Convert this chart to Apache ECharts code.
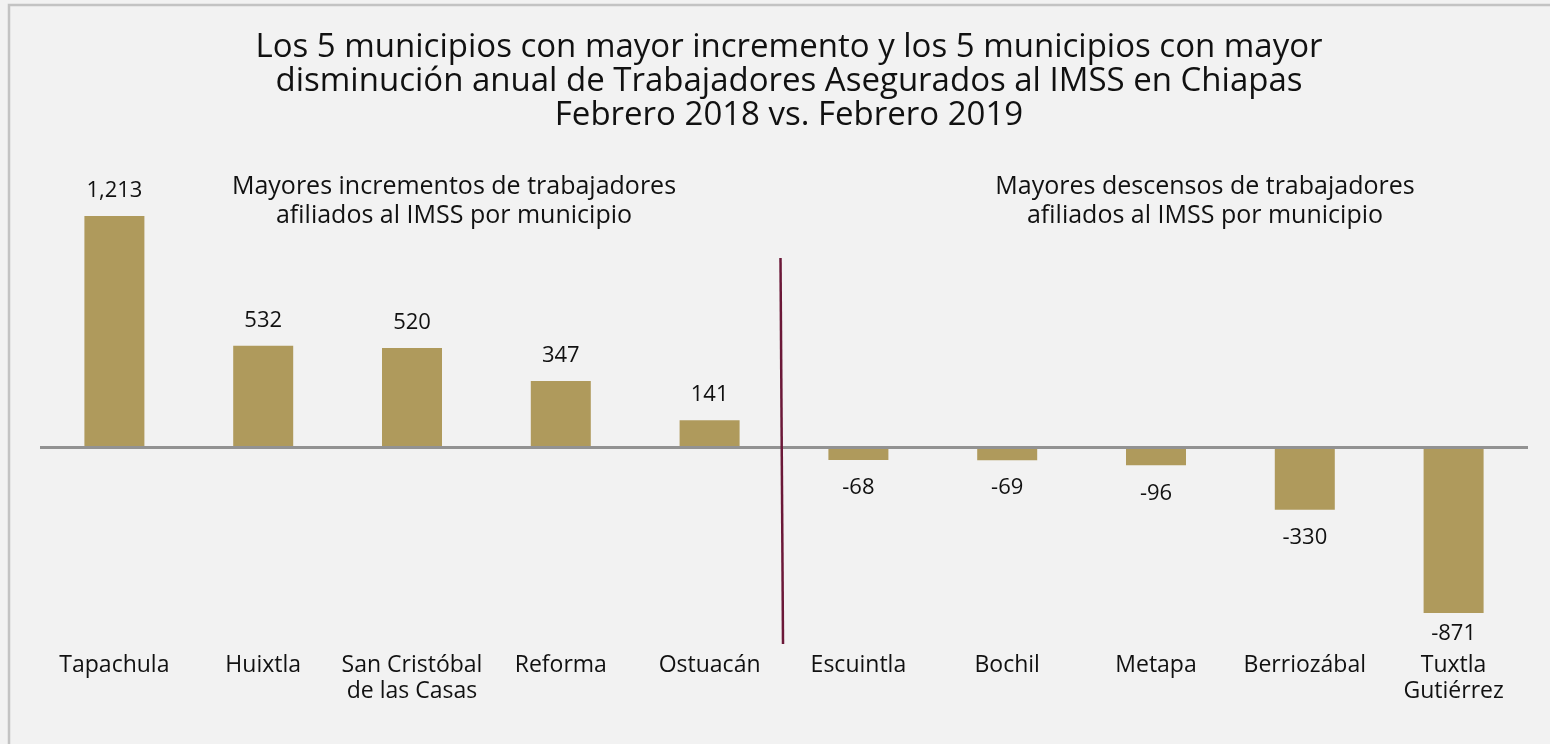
<!DOCTYPE html>
<html>
<head>
<meta charset="utf-8">
<script src="https://cdn.jsdelivr.net/npm/echarts@6/dist/echarts.min.js"></script>
<style>
html,body{margin:0;padding:0;background:#f2f2f2;}
#chart{width:1550px;height:744px;}
</style>
</head>
<body>
<div id="chart"></div>
<script>
const categories = ['Tapachula','Huixtla','San Cristóbal\nde las Casas','Reforma','Ostuacán','Escuintla','Bochil','Metapa','Berriozábal','Tuxtla\nGutiérrez'];
const values = [1213, 532, 520, 347, 141, -68, -69, -96, -330, -871];
const titleLines = ['Los 5 municipios con mayor incremento y los 5 municipios con mayor','disminución anual de Trabajadores Asegurados al IMSS en Chiapas','Febrero 2018 vs. Febrero 2019'];
const leftNote = ['Mayores incrementos de trabajadores','afiliados al IMSS por municipio'];
const rightNote = ['Mayores descensos de trabajadores','afiliados al IMSS por municipio'];

const FONT = 'Open Sans';
const chart = echarts.init(document.getElementById('chart'));
const option = {
  backgroundColor: '#f2f2f2',
  textStyle: {fontFamily: FONT},
  title: [
    {text: titleLines.join('\n'), left: 784, top: 26, textAlign: 'center',
     textStyle: {fontFamily: FONT, fontSize: 33, fontWeight: 'normal', color: '#111', lineHeight: 34}},
    {text: leftNote.join('\n'), left: 449, top: 167, textAlign: 'center',
     textStyle: {fontFamily: FONT, fontSize: 25, fontWeight: 'normal', color: '#111', lineHeight: 29}},
    {text: rightNote.join('\n'), left: 1200, top: 167, textAlign: 'center',
     textStyle: {fontFamily: FONT, fontSize: 25, fontWeight: 'normal', color: '#111', lineHeight: 29}}
  ],
  grid: {left: 40, right: 22, top: 180.3, bottom: 106.5, containLabel: false},
  xAxis: {
    type: 'category', data: categories, position: 'bottom',
    axisLine: {show: false, onZero: false}, axisTick: {show: false},
    axisLabel: {fontFamily: FONT, fontSize: 23, color: '#111', lineHeight: 26, margin: 15, interval: 0}
  },
  yAxis: {type: 'value', min: -1000, max: 1400, show: false, splitLine: {show: false}},
  series: [{
    type: 'bar', data: values.map(v => ({value: v, label: {position: v < 0 ? 'bottom' : 'top', distance: v < -500 ? 10 : (v < 0 ? 17 : 14)}})),
    barWidth: 60, itemStyle: {color: '#af9a5c'},
    label: {show: true, fontFamily: FONT, fontSize: 22, color: '#111',
      formatter: p => p.value.toLocaleString('en-US')},
    markLine: {silent: true, symbol: 'none', label: {show: false},
      lineStyle: {color: '#929292', width: 3, type: 'solid'},
      data: [{yAxis: 0}]},
    z: 2
  }]
};
chart.setOption(option);
const x4 = chart.convertToPixel({xAxisIndex: 0}, 4);
const x5 = chart.convertToPixel({xAxisIndex: 0}, 5);
const mid = (x4 + x5) / 2;
chart.setOption({
  graphic: [
    {type: 'rect', shape: {x: 9, y: 5, width: 1600, height: 800}, style: {fill: 'none', stroke: '#c3c3c3', lineWidth: 2.5}, z: -1, silent: true},
    {type: 'line', shape: {x1: mid - 3.5, y1: 258, x2: mid - 1, y2: 644}, style: {stroke: '#6b1838', lineWidth: 2.5}, z: 10, silent: true}
  ]
});
</script>
</body>
</html>
